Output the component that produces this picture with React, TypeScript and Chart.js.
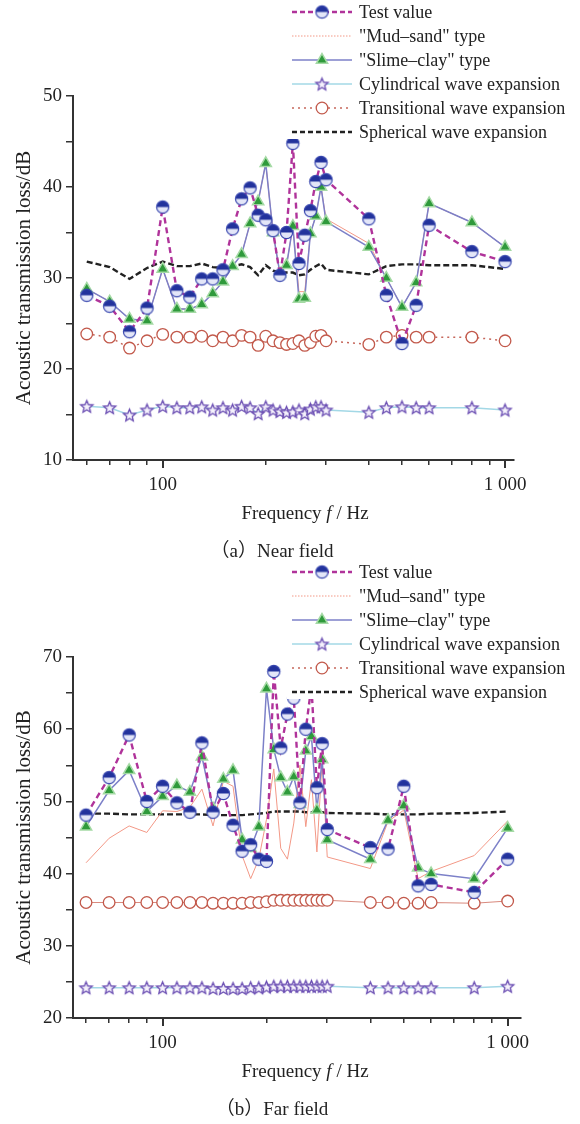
import React, { useEffect, useRef } from 'react';
import { Chart, registerables } from 'chart.js';

Chart.register(...registerables);

// ---------- data ----------
const frequencies = [60, 70, 80, 90, 100, 110, 120, 130, 140, 150, 160, 170, 180, 190, 200, 210, 220, 230, 240, 250, 260, 270, 280, 290, 300, 400, 450, 500, 550, 600, 800, 1000];

const seriesNames = [
  'Test value',
  '"Mud\u2013sand" type',
  '"Slime\u2013clay" type',
  'Cylindrical wave expansion',
  'Transitional wave expansion',
  'Spherical wave expansion',
];

// near field
const nearTest = [28.1, 26.9, 24.1, 26.7, 37.8, 28.6, 27.9, 29.9, 29.9, 30.9, 35.4, 38.7, 39.9, 36.9, 36.4, 35.2, 30.3, 35.0, 44.8, 31.6, 34.7, 37.4, 40.6, 42.7, 40.8, 36.5, 28.1, 22.8, 27.0, 35.8, 32.9, 31.8];
const nearMudSand = [28.8, 27.4, 25.5, 25.3, 31.0, 26.6, 26.6, 27.1, 28.3, 29.6, 31.3, 32.6, 36.0, 38.4, 42.6, 35.0, 30.5, 31.4, 35.7, 28.5, 28.5, 34.9, 36.8, 40.0, 36.5, 33.8, 30.0, 26.8, 29.5, 38.2, 36.1, 33.4];
const nearSlimeClay = [28.8, 27.4, 25.5, 25.3, 31.0, 26.6, 26.6, 27.1, 28.3, 29.6, 31.3, 32.6, 36.0, 38.4, 42.6, 35.0, 30.5, 31.4, 35.7, 27.7, 27.8, 34.9, 36.8, 40.0, 36.2, 33.4, 30.0, 26.8, 29.5, 38.2, 36.1, 33.4];
const nearCylindrical = [15.9, 15.75, 14.95, 15.5, 15.9, 15.75, 15.75, 15.85, 15.5, 15.75, 15.5, 15.9, 15.75, 15.1, 15.85, 15.5, 15.35, 15.25, 15.3, 15.5, 15.1, 15.6, 15.85, 15.85, 15.5, 15.25, 15.75, 15.85, 15.75, 15.75, 15.75, 15.5];
const nearTransitional = [23.85, 23.5, 22.3, 23.1, 23.8, 23.5, 23.5, 23.6, 23.1, 23.5, 23.1, 23.7, 23.5, 22.6, 23.6, 23.1, 22.9, 22.7, 22.8, 23.1, 22.6, 22.9, 23.6, 23.7, 23.1, 22.7, 23.5, 23.7, 23.5, 23.5, 23.5, 23.1];
const nearSpherical = [31.8, 31.2, 29.9, 31.1, 31.8, 31.3, 31.3, 31.6, 31.2, 31.1, 31.3, 31.5, 31.2, 30.3, 31.4, 30.8, 30.6, 30.6, 30.6, 30.3, 30.4, 30.9, 31.3, 31.6, 30.9, 30.4, 31.3, 31.5, 31.5, 31.4, 31.4, 31.0];

// far field
const farTest = [48.1, 53.3, 59.2, 50.0, 52.1, 49.8, 48.5, 58.1, 48.5, 51.1, 46.7, 43.1, 44.0, 42.0, 41.7, 68.0, 57.4, 62.1, 64.3, 49.8, 60.0, 66.0, 51.9, 58.0, 46.1, 43.6, 43.4, 52.1, 38.3, 38.5, 37.4, 42.0];
const farMudSand = [41.5, 44.9, 46.6, 45.7, 48.7, 48.6, 49.2, 51.7, 46.6, 52.8, 52.1, 42.5, 39.3, 42.0, 47.5, 54.5, 43.5, 42.0, 47.0, 55.0, 46.5, 53.0, 43.0, 55.7, 42.3, 40.7, 47.2, 48.8, 39.3, 40.3, 42.5, 47.3];
const farSlimeClay = [46.5, 51.5, 54.3, 48.6, 50.7, 52.2, 51.3, 56.2, 49.0, 53.1, 54.3, 44.7, 43.5, 46.5, 65.6, 57.2, 53.3, 51.3, 53.4, 49.6, 57.0, 59.0, 48.8, 55.8, 44.7, 42.0, 47.4, 49.4, 40.8, 40.0, 39.3, 46.3];
const farCylindrical = [24.2, 24.2, 24.2, 24.2, 24.2, 24.2, 24.2, 24.2, 24.1, 24.1, 24.1, 24.1, 24.2, 24.2, 24.3, 24.4, 24.4, 24.4, 24.4, 24.4, 24.4, 24.4, 24.4, 24.4, 24.4, 24.2, 24.2, 24.2, 24.2, 24.2, 24.2, 24.4];
const farTransitional = [36.0, 36.0, 36.0, 36.0, 36.0, 36.0, 36.0, 36.0, 35.9, 35.9, 35.9, 35.9, 36.0, 36.0, 36.1, 36.3, 36.3, 36.3, 36.3, 36.3, 36.3, 36.3, 36.3, 36.3, 36.3, 36.0, 36.0, 35.9, 35.9, 36.0, 35.9, 36.2];
const farSpherical = [48.3, 48.3, 48.2, 48.2, 48.2, 48.2, 48.2, 48.2, 48.1, 48.1, 48.1, 48.1, 48.2, 48.3, 48.4, 48.6, 48.6, 48.6, 48.6, 48.6, 48.5, 48.5, 48.5, 48.5, 48.4, 48.3, 48.2, 48.2, 48.2, 48.3, 48.4, 48.6];

const xTickValues = [60, 70, 80, 90, 100, 200, 300, 400, 500, 600, 700, 800, 900, 1000];
const xMajorTicks = [100, 1000];
const xTickLabels: Record<number, string> = { 100: '100', 1000: '1 000' };
const yAxisTitle = 'Acoustic transmission loss/dB';

// ---------- styling ----------
const SERIF = '"Liberation Serif", "Times New Roman", "Noto Sans CJK SC", serif';
const TEXT = '#222';

function makeHalfCircle(r: number): HTMLCanvasElement {
  const s = Math.ceil(2 * r + 4);
  const c = document.createElement('canvas');
  c.width = s;
  c.height = s;
  const g = c.getContext('2d')!;
  const cx = s / 2, cy = s / 2;
  g.beginPath();
  g.arc(cx, cy, r, 0, Math.PI * 2);
  g.fillStyle = '#e3e6f8';
  g.fill();
  g.beginPath();
  g.arc(cx, cy, r, Math.PI, Math.PI * 2);
  g.closePath();
  g.fillStyle = '#22329c';
  g.fill();
  g.beginPath();
  g.arc(cx, cy, r, 0, Math.PI * 2);
  g.strokeStyle = '#3443ad';
  g.lineWidth = 1.2;
  g.stroke();
  return c;
}

function makeStar(r: number): HTMLCanvasElement {
  const s = Math.ceil(2 * r + 4);
  const c = document.createElement('canvas');
  c.width = s;
  c.height = s;
  const g = c.getContext('2d')!;
  const cx = s / 2, cy = s / 2 + 0.6;
  g.beginPath();
  for (let i = 0; i < 10; i++) {
    const a = -Math.PI / 2 + (i * Math.PI) / 5;
    const rr = i % 2 === 0 ? r : r * 0.45;
    const px = cx + rr * Math.cos(a);
    const py = cy + rr * Math.sin(a);
    if (i === 0) g.moveTo(px, py);
    else g.lineTo(px, py);
  }
  g.closePath();
  g.fillStyle = '#f5f2fc';
  g.fill();
  g.strokeStyle = '#6a4db2';
  g.lineWidth = 1.3;
  g.stroke();
  return c;
}

type FieldProps = {
  top: number;
  height: number;
  test: number[];
  mud: number[];
  slime: number[];
  cyl: number[];
  trans: number[];
  sph: number[];
  transSolid: boolean;
  yMin: number;
  yMax: number;
  xMin: number;
  xMax: number;
  plotTop: number;
  plotBottom: number;
  plotRight: number;
  caption: string;
};

const PLOT_LEFT = 73;
const XAXIS_H = 40;
const LEGEND_ROW0 = 12;
const LEGEND_STEP = 24;

function FieldChart(p: FieldProps) {
  const ref = useRef<HTMLCanvasElement | null>(null);

  useEffect(() => {
    const canvas = ref.current;
    if (!canvas) return;
    const halfCircle = makeHalfCircle(6.1);
    const star = makeStar(6.4);
    const pts = (arr: number[]) => frequencies.map((f, i) => ({ x: f, y: arr[i] }));

    const legendStyles = [
      { color: '#b0339a', width: 2.4, dash: [5, 3], marker: 'half' },
      { color: '#f39886', width: 1, dash: [1.5, 1.5], marker: '' },
      { color: '#7c80c8', width: 1.5, dash: [], marker: 'tri' },
      { color: '#a3d8e6', width: 1.5, dash: [], marker: 'star' },
      { color: '#c6675b', width: 1.5, dash: [2, 4], marker: 'ring' },
      { color: '#222', width: 2.4, dash: [5, 3], marker: '' },
    ];

    const overlay = {
      id: 'overlay',
      afterDatasetsDraw(chart: any) {
        const ctx: CanvasRenderingContext2D = chart.ctx;
        ctx.save();
        ctx.fillStyle = '#fff';
        ctx.fillRect(287, 0, 580 - 287, LEGEND_ROW0 + 5 * LEGEND_STEP + 7);
        legendStyles.forEach((st, k) => {
          const y = LEGEND_ROW0 + k * LEGEND_STEP;
          ctx.save();
          ctx.strokeStyle = st.color;
          ctx.lineWidth = st.width;
          ctx.setLineDash(st.dash);
          ctx.beginPath();
          ctx.moveTo(292, y);
          ctx.lineTo(352, y);
          ctx.stroke();
          ctx.restore();
          const mx = 322;
          if (st.marker === 'half') {
            ctx.drawImage(halfCircle, mx - halfCircle.width / 2, y - halfCircle.height / 2);
          } else if (st.marker === 'star') {
            ctx.drawImage(star, mx - star.width / 2, y - star.height / 2);
          } else if (st.marker === 'tri') {
            const r = 6.5;
            ctx.beginPath();
            for (let i = 0; i < 3; i++) {
              const a = (i * 2 * Math.PI) / 3;
              const px = mx + Math.sin(a) * r;
              const py = y - Math.cos(a) * r;
              if (i === 0) ctx.moveTo(px, py);
              else ctx.lineTo(px, py);
            }
            ctx.closePath();
            ctx.fillStyle = '#2f9a3b';
            ctx.fill();
            ctx.strokeStyle = '#a5daa5';
            ctx.lineWidth = 1.5;
            ctx.stroke();
          } else if (st.marker === 'ring') {
            ctx.beginPath();
            ctx.arc(mx, y, 5.8, 0, Math.PI * 2);
            ctx.fillStyle = '#fff';
            ctx.fill();
            ctx.strokeStyle = '#c2594b';
            ctx.lineWidth = 1.3;
            ctx.stroke();
          }
          ctx.fillStyle = TEXT;
          ctx.font = `18px ${SERIF}`;
          ctx.textBaseline = 'middle';
          ctx.textAlign = 'left';
          ctx.fillText(seriesNames[k], 359, y + 1);
        });
        ctx.restore();
      },
      afterDraw(chart: any) {
        const ctx: CanvasRenderingContext2D = chart.ctx;
        const xs = chart.scales.x;
        ctx.save();
        ctx.strokeStyle = '#333';
        ctx.lineWidth = 2;
        xMajorTicks.forEach((v) => {
          const px = Math.round(xs.getPixelForValue(v));
          ctx.beginPath();
          ctx.moveTo(px, xs.top);
          ctx.lineTo(px, xs.top + 8);
          ctx.stroke();
        });
        ctx.fillStyle = TEXT;
        ctx.textBaseline = 'middle';
        ctx.textAlign = 'left';
        const ty = p.plotBottom + 54;
        const parts = [
          { t: 'Frequency ', f: `19px ${SERIF}` },
          { t: 'f', f: `italic 19px ${SERIF}` },
          { t: ' / Hz', f: `19px ${SERIF}` },
        ];
        let total = 0;
        parts.forEach((q) => {
          ctx.font = q.f;
          total += ctx.measureText(q.t).width;
        });
        let x = 305 - total / 2;
        parts.forEach((q) => {
          ctx.font = q.f;
          ctx.fillText(q.t, x, ty);
          x += ctx.measureText(q.t).width;
        });
        ctx.font = `19px ${SERIF}`;
        ctx.textAlign = 'center';
        ctx.fillText(p.caption, 272, p.plotBottom + 92);
        ctx.restore();
      },
    };

    const fontTick = { family: SERIF, size: 19 };

    const chart = new Chart(canvas, {
      type: 'line',
      data: {
        datasets: [
          {
            label: seriesNames[0],
            data: pts(p.test),
            borderColor: '#b0339a',
            borderWidth: 2.4,
            borderDash: [6, 4],
            pointStyle: halfCircle as any,
            pointRadius: 6,
            order: 0,
          },
          {
            label: seriesNames[1],
            data: pts(p.mud),
            borderColor: '#f39886',
            borderWidth: 1,
            pointRadius: 0,
            order: 2,
          },
          {
            label: seriesNames[2],
            data: pts(p.slime),
            borderColor: '#7c80c8',
            borderWidth: 1.5,
            pointStyle: 'triangle',
            pointRadius: 6.5,
            pointBackgroundColor: '#2f9a3b',
            pointBorderColor: '#a5daa5',
            pointBorderWidth: 1.5,
            order: 1,
          },
          {
            label: seriesNames[3],
            data: pts(p.cyl),
            borderColor: '#a3d8e6',
            borderWidth: 1.5,
            pointStyle: star as any,
            pointRadius: 6,
            order: 3,
          },
          {
            label: seriesNames[4],
            data: pts(p.trans),
            borderColor: p.transSolid ? '#d98a7e' : '#c6675b',
            borderWidth: p.transSolid ? 1.1 : 1.5,
            borderDash: p.transSolid ? [] : [2, 4],
            pointStyle: 'circle',
            pointRadius: 5.8,
            pointBackgroundColor: '#fff',
            pointBorderColor: '#c2594b',
            pointBorderWidth: 1.3,
            order: 4,
          },
          {
            label: seriesNames[5],
            data: pts(p.sph),
            borderColor: '#222',
            borderWidth: 2.4,
            borderDash: [6, 3],
            pointRadius: 0,
            order: 5,
          },
        ] as any,
      },
      options: {
        responsive: false,
        animation: false,
        devicePixelRatio: 1,
        events: [],
        layout: {
          padding: {
            top: p.plotTop,
            left: 0,
            right: 580 - p.plotRight,
            bottom: p.height - p.plotBottom - XAXIS_H,
          },
        },
        elements: { line: { tension: 0, fill: false } },
        plugins: { legend: { display: false }, tooltip: { enabled: false }, title: { display: false } },
        scales: {
          x: {
            type: 'logarithmic',
            min: p.xMin,
            max: p.xMax,
            afterBuildTicks: (s: any) => {
              s.ticks = xTickValues.map((v) => ({ value: v }));
            },
            afterFit: (s: any) => {
              s.height = XAXIS_H;
            },
            ticks: {
              autoSkip: false,
              maxRotation: 0,
              minRotation: 0,
              padding: 9,
              color: TEXT,
              font: fontTick,
              callback: (v: any) => xTickLabels[Number(v)] ?? '',
            },
            grid: { display: true, drawOnChartArea: false, drawTicks: true, tickLength: 5, color: '#333', lineWidth: 1.5 },
            border: { display: true, color: '#333', width: 2 },
          },
          y: {
            type: 'linear',
            min: p.yMin,
            max: p.yMax,
            afterFit: (s: any) => {
              s.width = PLOT_LEFT;
            },
            ticks: {
              stepSize: 5,
              autoSkip: false,
              padding: 4,
              color: TEXT,
              font: fontTick,
              callback: (v: any) => (Number(v) % 10 === 0 ? String(v) : ''),
            },
            grid: { display: true, drawOnChartArea: false, drawTicks: true, tickLength: 7, color: '#333', lineWidth: 1.5 },
            border: { display: true, color: '#333', width: 2 },
            title: {
              display: true,
              text: yAxisTitle,
              color: TEXT,
              font: { family: SERIF, size: 21 },
              padding: { top: 12, bottom: 0 },
            },
          },
        },
      } as any,
      plugins: [overlay],
    });
    return () => chart.destroy();
  }, []);

  return (
    <canvas
      ref={ref}
      width={580}
      height={p.height}
      style={{ position: 'absolute', left: 0, top: p.top, display: 'block' }}
    />
  );
}

export default function App() {
  return (
    <div style={{ position: 'absolute', left: 0, top: 0, width: 580, height: 1124, background: '#fff', overflow: 'hidden' }}>
      <FieldChart
        top={0}
        height={560}
        test={nearTest}
        mud={nearMudSand}
        slime={nearSlimeClay}
        cyl={nearCylindrical}
        trans={nearTransitional}
        sph={nearSpherical}
        transSolid={false}
        yMin={10}
        yMax={50}
        xMin={54.7}
        xMax={1062}
        plotTop={96}
        plotBottom={460}
        plotRight={514}
        caption={'\uff08a\uff09Near field'}
      />
      <FieldChart
        top={560}
        height={564}
        test={farTest}
        mud={farMudSand}
        slime={farSlimeClay}
        cyl={farCylindrical}
        trans={farTransitional}
        sph={farSpherical}
        transSolid={true}
        yMin={20}
        yMax={70}
        xMin={55}
        xMax={1093}
        plotTop={97}
        plotBottom={458}
        plotRight={521}
        caption={'\uff08b\uff09Far field'}
      />
    </div>
  );
}
